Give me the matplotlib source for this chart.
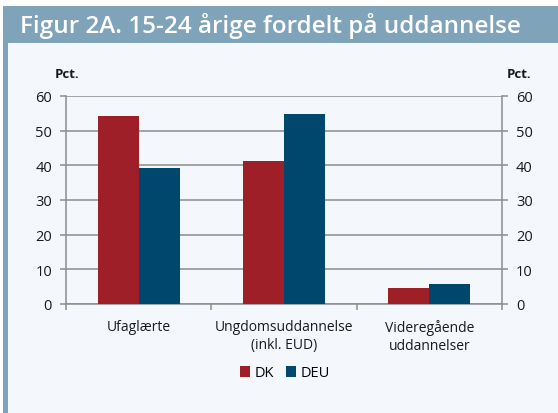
import matplotlib.pyplot as plt
import numpy as np
from matplotlib.patches import Rectangle

# Data
categories = ["Ufaglærte", "Ungdomsuddannelse\n(inkl. EUD)", "Videregående\nuddannelser"]
dk = [54.1, 41.2, 4.5]
deu = [39.3, 54.8, 5.9]

colors = {"DK": "#9e1f27", "DEU": "#00476e"}
bg = "#f4f8fc"
bar_bg = "#7fa3b9"
grid_col = "#8c8c8c"

plt.rcParams["font.family"] = ["Open Sans", "DejaVu Sans"]

fig = plt.figure(figsize=(5.58, 4.14), dpi=100)
W, H = 558, 414

# Panel background, title bar and left strip
fig.patches.append(Rectangle((3 / W, 0), 1 - 3 / W, 1 - 7 / H, transform=fig.transFigure,
                             facecolor=bg, edgecolor="none", zorder=-2))
fig.patches.append(Rectangle((3 / W, 1 - 44 / H), 1 - 3 / W, 37 / H, transform=fig.transFigure,
                             facecolor=bar_bg, edgecolor="none", zorder=-1))
fig.patches.append(Rectangle((3 / W, 0), 5 / W, 1 - 44 / H, transform=fig.transFigure,
                             facecolor=bar_bg, edgecolor="none", zorder=-1))
fig.text(20 / W, 1 - 26 / H, "Figur 2A. 15-24 årige fordelt på uddannelse", color="white",
         fontsize=17.5, fontweight="semibold", va="center", ha="left", zorder=2)

ax = fig.add_axes([66 / W, 1 - 305 / H, 436 / W, 208 / H])
ax.set_facecolor("none")
ax.set_zorder(5)

x = np.arange(len(categories))
w = 0.283
ax.bar(x - w / 2, dk, w, color=colors["DK"], label="DK", zorder=3)
ax.bar(x + w / 2, deu, w, color=colors["DEU"], label="DEU", zorder=3)

ax.set_xlim(-0.5, len(categories) - 0.5)
ax.set_ylim(0, 60)
ax.set_yticks(range(0, 61, 10))
ax.yaxis.grid(True, color=grid_col, linewidth=1.1, zorder=1)
ax.set_axisbelow(True)

for s in ["left", "right", "bottom"]:
    ax.spines[s].set_color(grid_col)
    ax.spines[s].set_linewidth(1.1)
ax.spines["top"].set_visible(False)

ax.tick_params(axis="y", which="both", left=True, right=True, labelleft=True, labelright=True,
               direction="out", length=4, width=1.1, color=grid_col, labelsize=10.5,
               labelcolor="#1a1a1a", pad=6)
ax.set_xticks(x)
ax.set_xticklabels(categories, fontsize=10, color="#1a1a1a", linespacing=1.25)
ax.tick_params(axis="x", which="major", length=0, pad=11)
ax.set_xticks(np.arange(-0.5, len(categories)), minor=True)
ax.tick_params(axis="x", which="minor", length=4, width=1.1, color=grid_col, direction="out")

fig.text(67 / W, 1 - 75 / H, "Pct.", fontsize=9.5, fontweight="bold", ha="center", va="center",
         color="#1a1a1a")
fig.text(519 / W, 1 - 75 / H, "Pct.", fontsize=9.5, fontweight="bold", ha="center", va="center",
         color="#1a1a1a")

fig.legend(loc="center", bbox_to_anchor=(285 / W, 1 - 374 / H), ncol=2, frameon=False,
           fontsize=10.5, handlelength=0.7, handleheight=0.7, handletextpad=0.3,
           columnspacing=0.8)

fig.savefig("out.png", dpi=100, facecolor="white")
